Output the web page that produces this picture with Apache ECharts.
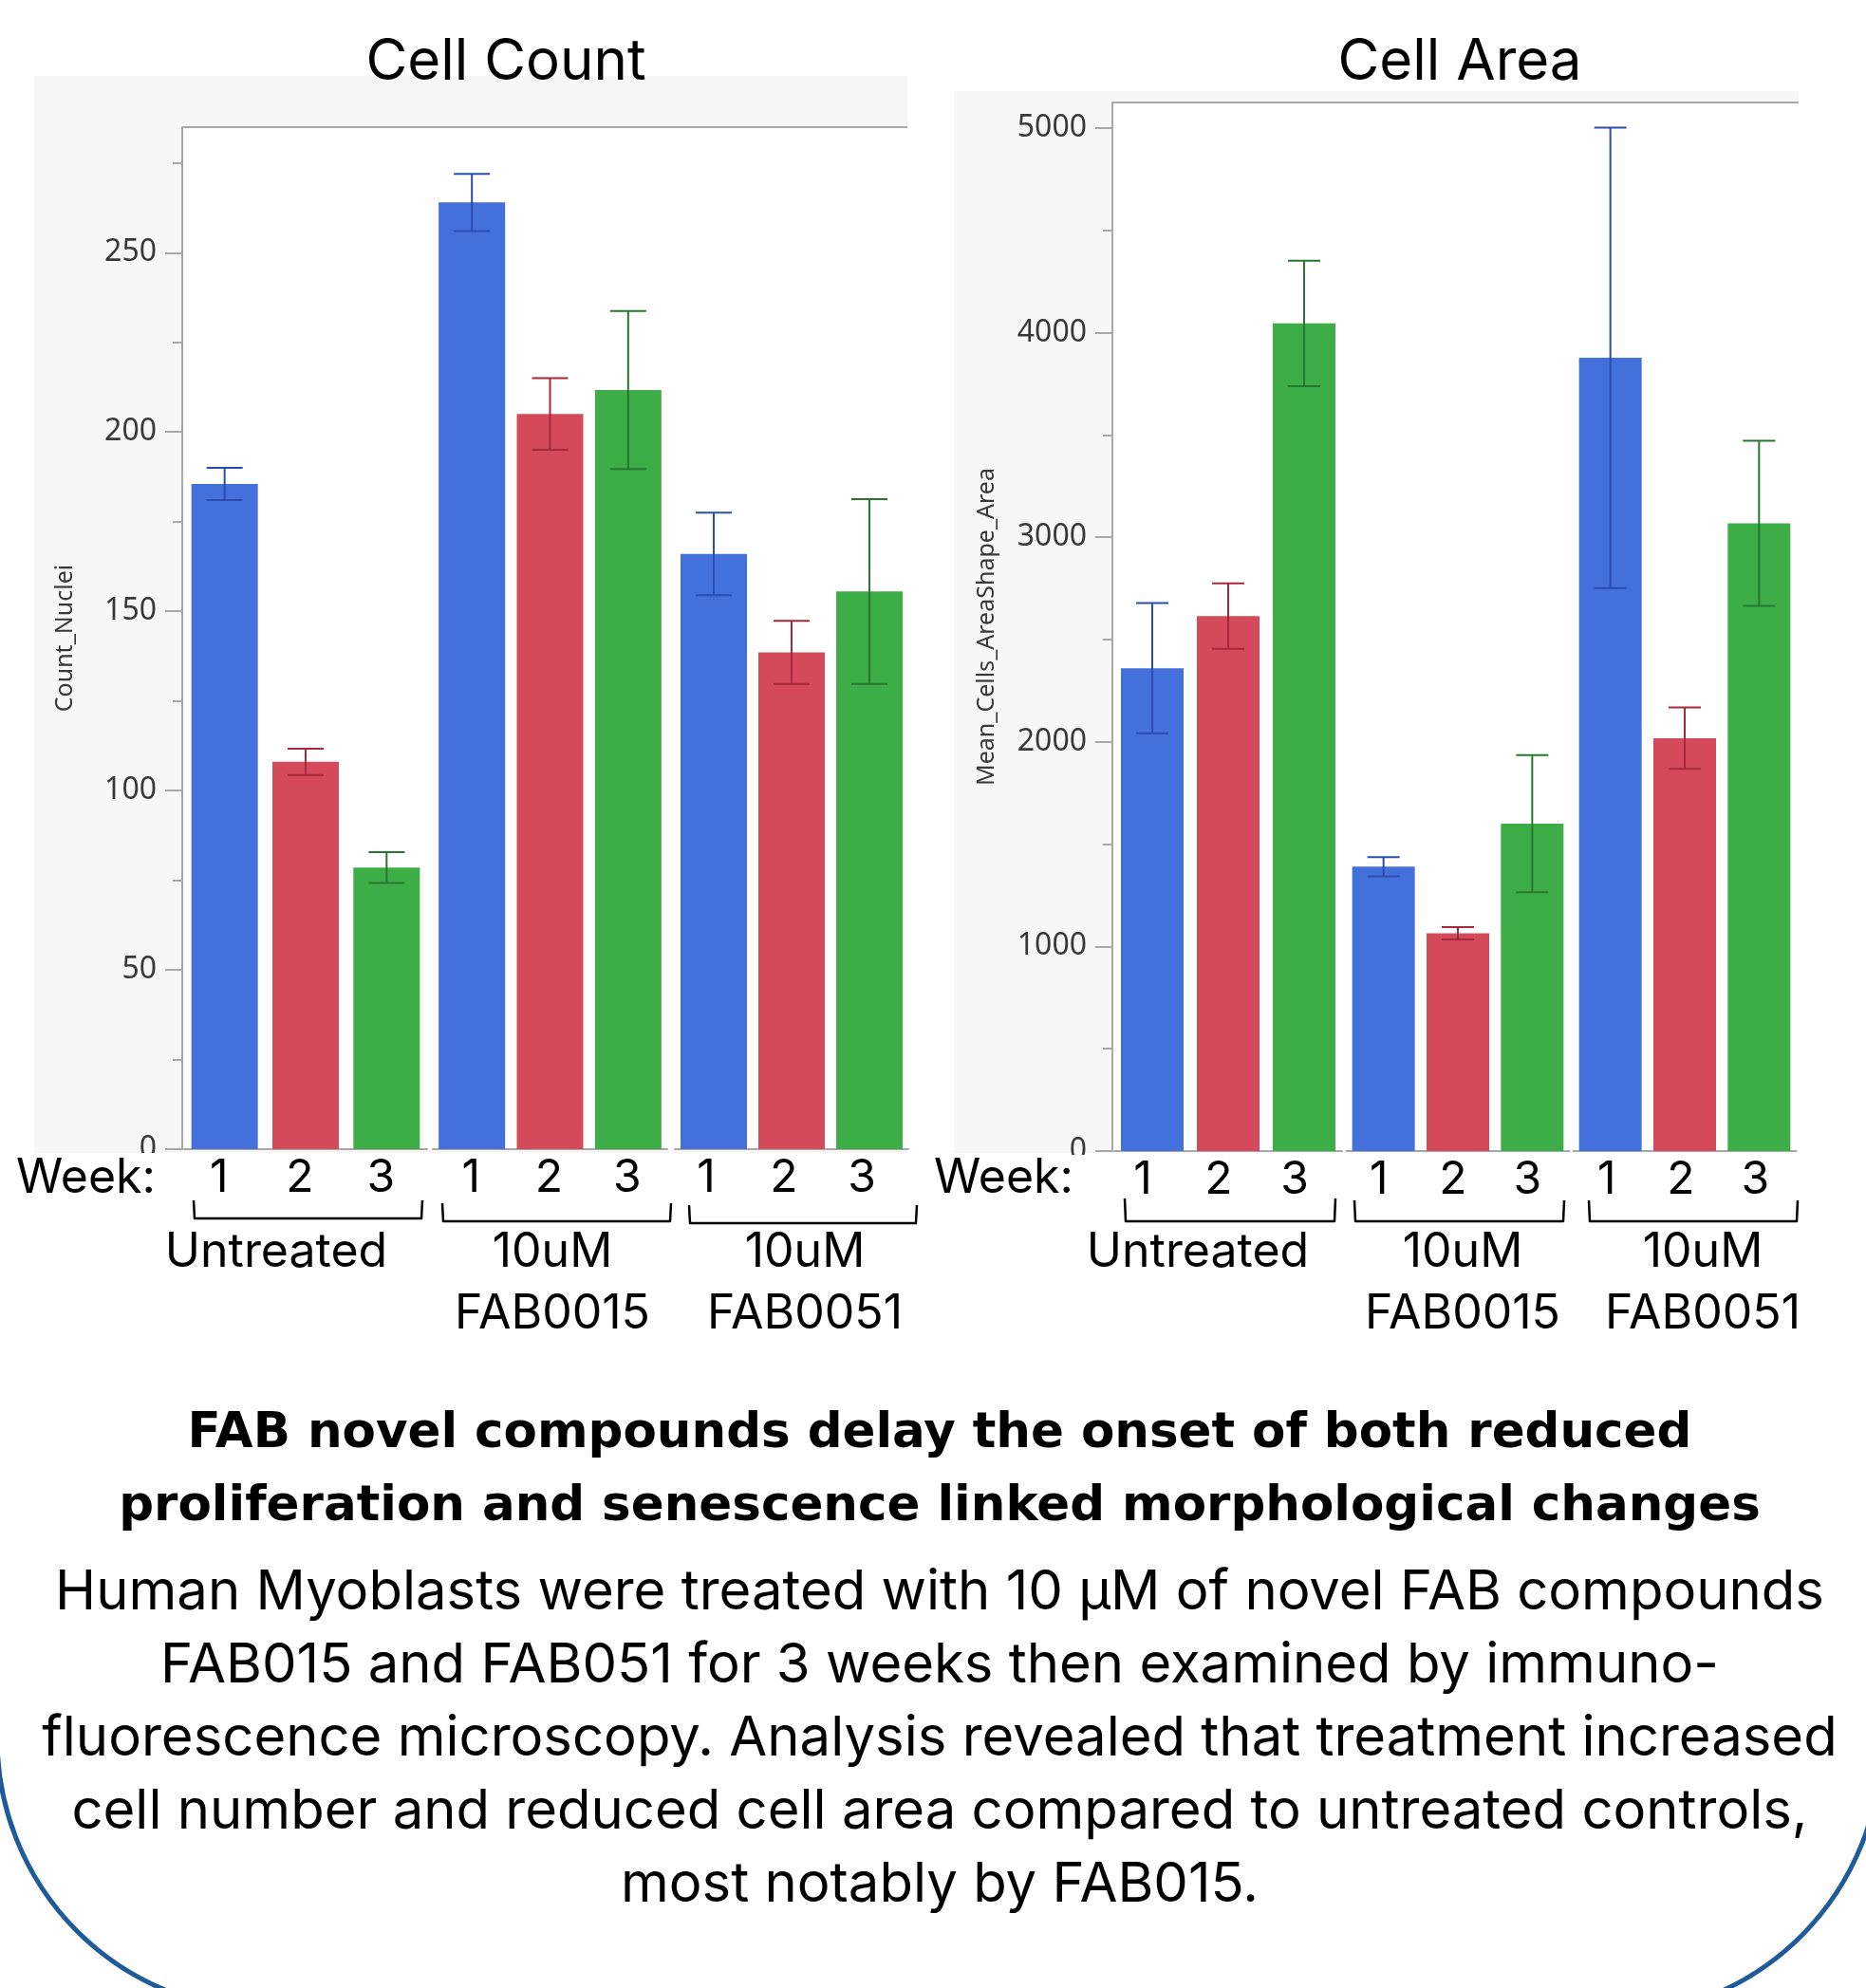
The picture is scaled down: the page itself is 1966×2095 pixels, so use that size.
<!DOCTYPE html>
<html><head><meta charset="utf-8">
<script src="https://cdn.jsdelivr.net/npm/echarts@6/dist/echarts.min.js"></script>
<style>html,body{margin:0;padding:0;background:#fff}#c{width:1966px;height:2095px}</style>
</head><body><div id="c"></div>
<script>
// ---------- data ----------
const weeks = ['1', '2', '3'];
const groupNames = ['Untreated', '10uM\nFAB0015', '10uM\nFAB0051'];
// Cell Count (Count_Nuclei): mean per group, weeks 1..3
const countUntreated = [185.5, 108, 78.5];
const countFAB0015   = [264, 205, 211.7];
const countFAB0051   = [166, 138.5, 155.5];
const countErrUntreated = [4.5, 3.7, 4.3];
const countErrFAB0015   = [8, 10, 22];
const countErrFAB0051   = [11.5, 8.8, 25.8];
// Cell Area (Mean_Cells_AreaShape_Area)
const areaUntreated = [2360, 2615, 4045];
const areaFAB0015   = [1390, 1064, 1600];
const areaFAB0051   = [3877, 2018, 3068];
const areaErrUntreated = [318, 160, 307];
const areaErrFAB0015   = [47, 30, 335];
const areaErrFAB0051   = [1125, 150, 403];
// axis ticks
const countTicks = [0, 50, 100, 150, 200, 250];
const countMinorTicks = [25, 75, 125, 175, 225, 275];
const areaTicks = [0, 1000, 2000, 3000, 4000, 5000];
const areaMinorTicks = [500, 1500, 2500, 3500, 4500];

// ---------- styling / layout ----------
const barColors = ['#4470dc', '#d44a5b', '#3dae47'];
const errColors = ['#2a4cae', '#a6283a', '#27782e'];
const axisGrey = '#a8a8a8';

const charts = [
  { title: 'Cell Count', titleX: 533, yName: 'Count_Nuclei', nameGap: 111,
    means: [countUntreated, countFAB0015, countFAB0051],
    errs: [countErrUntreated, countErrFAB0015, countErrFAB0051],
    ticks: countTicks, minor: countMinorTicks, max: 285,
    top: 134, base: 1211, axisX: 192,
    grids: [[194, 256], [456, 247], [711, 246]], labelShift: [6, 1, 8],
    barW: 70, capW: 38,
    panel: [36, 80, 920, 1135], frameRight: 956,
    groupLabelX: [291, 582, 848],
    brackets: [[204, 445, 1265, 1284], [466, 707, 1268, 1287], [726, 966, 1270, 1289]],
    weekX: 17 },
  { title: 'Cell Area', titleX: 1538, yName: 'Mean_Cells_AreaShape_Area', nameGap: 120,
    means: [areaUntreated, areaFAB0015, areaFAB0051],
    errs: [areaErrUntreated, areaErrFAB0015, areaErrFAB0051],
    ticks: areaTicks, minor: areaMinorTicks, max: 5125,
    top: 108, base: 1213, axisX: 1172,
    grids: [[1174, 240], [1418.5, 235], [1657.5, 235]], labelShift: [10, 5, 4],
    barW: 66, capW: 34,
    panel: [1005, 96, 890, 1119], frameRight: 1895,
    groupLabelX: [1262, 1541, 1794],
    brackets: [[1185, 1407, 1263, 1287], [1427, 1648, 1265, 1287], [1674, 1894, 1265, 1287]],
    weekX: 984 }
];

const grid = [], xAxis = [], yAxis = [], series = [], graphic = [];

function errRender(capW) {
  return function (params, api) {
    const i = api.value(0);
    const lo = api.coord([i, api.value(1)]);
    const hi = api.coord([i, api.value(2)]);
    const st = { stroke: errColors[i], lineWidth: 2 };
    return { type: 'group', children: [
      { type: 'line', shape: { x1: lo[0], y1: lo[1], x2: hi[0], y2: hi[1] }, style: st },
      { type: 'line', shape: { x1: lo[0] - capW / 2, y1: lo[1], x2: lo[0] + capW / 2, y2: lo[1] }, style: st },
      { type: 'line', shape: { x1: hi[0] - capW / 2, y1: hi[1], x2: hi[0] + capW / 2, y2: hi[1] }, style: st }
    ]};
  };
}

charts.forEach(function (c) {
  graphic.push({ type: 'rect', z: -20, shape: { x: c.panel[0], y: c.panel[1], width: c.panel[2], height: c.panel[3] }, style: { fill: '#f7f7f7' } });
  graphic.push({ type: 'rect', z: -19, shape: { x: c.axisX, y: c.top, width: c.frameRight - c.axisX, height: c.base - c.top }, style: { fill: '#ffffff' } });
  graphic.push({ type: 'line', z: -18, shape: { x1: c.axisX, y1: c.top, x2: c.frameRight, y2: c.top }, style: { stroke: axisGrey, lineWidth: 2 } });
  graphic.push({ type: 'text', z: 50, x: c.titleX, y: 66, style: { text: c.title, font: '60px Inter', fill: '#000', textAlign: 'center', textVerticalAlign: 'middle' } });

  c.grids.forEach(function (g, gi) {
    const gIdx = grid.length;
    grid.push({ left: g[0], width: g[1], top: c.top, height: c.base - c.top, containLabel: false });
    xAxis.push({ type: 'category', gridIndex: gIdx, data: weeks,
      axisLine: { show: true, lineStyle: { color: axisGrey, width: 2 } },
      axisTick: { show: false },
      axisLabel: { fontSize: 48, fontFamily: 'Inter', color: '#000', margin: 7, lineHeight: 48,
                   padding: [0, 2 * c.labelShift[gi], 0, 0] } });
    let yIdx = yAxis.length;
    if (gi === 0) {
      yAxis.push({ type: 'value', gridIndex: gIdx, position: 'left', min: 0, max: c.max, offset: g[0] - c.axisX,
        axisLine: { show: true, lineStyle: { color: axisGrey, width: 2 } },
        axisTick: { show: true, length: 18, customValues: c.ticks, lineStyle: { color: axisGrey, width: 2 } },
        axisLabel: { customValues: c.ticks, fontSize: 32, fontFamily: 'Noto Sans', color: '#383838', margin: 27,
                     formatter: function (v) { return String(v); } },
        splitLine: { show: false },
        name: c.yName, nameLocation: 'middle', nameGap: c.nameGap,
        nameTextStyle: { fontSize: 25, fontFamily: 'Noto Sans', color: '#383838' } });
      yAxis.push({ type: 'value', gridIndex: gIdx, position: 'left', min: 0, max: c.max, offset: g[0] - c.axisX,
        axisLine: { show: false },
        axisTick: { show: true, length: 10, customValues: c.minor, lineStyle: { color: axisGrey, width: 2 } },
        axisLabel: { show: false }, splitLine: { show: false } });
    } else {
      yAxis.push({ type: 'value', gridIndex: gIdx, min: 0, max: c.max, show: false, splitLine: { show: false } });
    }
    const means = c.means[gi], errs = c.errs[gi];
    series.push({ type: 'bar', xAxisIndex: gIdx, yAxisIndex: yIdx, barWidth: c.barW, z: 2,
      data: means.map(function (v, i) { return { value: v, itemStyle: { color: barColors[i] } }; }) });
    series.push({ type: 'custom', xAxisIndex: gIdx, yAxisIndex: yIdx, z: 3,
      encode: { x: 0, y: [1, 2] },
      renderItem: errRender(c.capW),
      data: means.map(function (v, i) { return [i, v - errs[i], v + errs[i]]; }) });

    const b = c.brackets[gi];
    graphic.push({ type: 'polyline', z: 50, shape: { points: [[b[0], b[2]], [b[0] + 1, b[3]], [b[1] - 1, b[3]], [b[1], b[2]]] },
      style: { stroke: '#000', lineWidth: 2.5, fill: null, lineJoin: 'round' } });
    graphic.push({ type: 'text', z: 50, x: c.groupLabelX[gi], y: 1320 - 32.5,
      style: { text: groupNames[gi], font: '50px Inter', fill: '#000', textAlign: 'center', textVerticalAlign: 'top', lineHeight: 65 } });
  });

  graphic.push({ type: 'rect', z: 60, shape: { x: c.panel[0] - 6, y: c.base + 4, width: c.axisX - c.panel[0] - 14, height: 30 }, style: { fill: '#fff' } });
  graphic.push({ type: 'text', z: 61, x: c.weekX, y: 1242,
    style: { text: 'Week:', font: '50px Inter', fill: '#000', textAlign: 'left', textVerticalAlign: 'middle' } });
});

// caption
graphic.push({ type: 'text', z: 50, x: 990, y: 1550,
  style: { text: 'FAB novel compounds delay the onset of both reduced\nproliferation and senescence linked morphological changes',
    font: 'bold 51.5px "DejaVu Sans"', fill: '#000', textAlign: 'center', textVerticalAlign: 'middle', lineHeight: 77 } });
graphic.push({ type: 'text', z: 50, x: 990, y: 1833,
  style: { text: 'Human Myoblasts were treated with 10 µM of novel FAB compounds\nFAB015 and FAB051 for 3 weeks then examined by immuno-\nfluorescence microscopy. Analysis revealed that treatment increased\ncell number and reduced cell area compared to untreated controls,\nmost notably by FAB015.',
    font: '58px Inter', fill: '#000', textAlign: 'center', textVerticalAlign: 'middle', lineHeight: 77 } });
// frame arcs
graphic.push({ type: 'arc', z: 40, shape: { cx: 284, cy: 1832, r: 287, startAngle: Math.PI / 2, endAngle: Math.PI, clockwise: true },
  style: { stroke: '#1f5b98', lineWidth: 5, fill: null } });
graphic.push({ type: 'arc', z: 40, shape: { cx: 1695, cy: 1837, r: 287, startAngle: 0, endAngle: Math.PI / 2, clockwise: true },
  style: { stroke: '#1f5b98', lineWidth: 5, fill: null } });

const chart = echarts.init(document.getElementById('c'), null, { renderer: 'canvas' });
chart.setOption({ animation: false, backgroundColor: '#fff', grid: grid, xAxis: xAxis, yAxis: yAxis, series: series, graphic: graphic });
</script></body></html>
